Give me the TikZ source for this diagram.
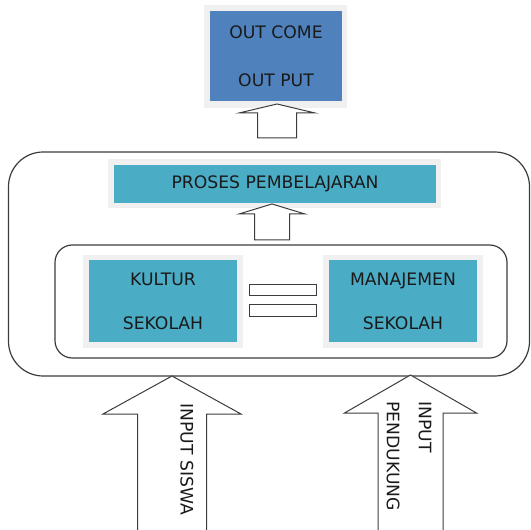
\documentclass[tikz,border=0pt]{standalone}
\usepackage{fontspec}
\setmainfont{DejaVu Sans}
\usetikzlibrary{calc}
\definecolor{blueA}{HTML}{4F81BD}
\definecolor{tealA}{HTML}{4BACC6}
\definecolor{glow}{HTML}{F0F0F0}
\definecolor{txt}{HTML}{1A1A1A}
\definecolor{edge}{HTML}{3C3C3C}
\newcommand\blkarrow[6]{%
  \draw[blockarrow] ($(#1 |- #2)+(-#3,0)$) -- ($(#1)+(-#3,#5)$) -- ($(#1)+(-#4,#5)$) -- (#1)
    -- ($(#1)+(#4,#5)$) -- ($(#1)+(#3,#5)$) -- ($(#1 |- #2)+(#3,0)$) #6;}
\begin{document}
\begin{tikzpicture}[x=0.75pt,y=-0.75pt,
  lbl/.style={font=\fontsize{12.9}{15}\selectfont, text=txt, inner sep=0pt},
  glowbox/.style={fill=glow, draw=none},
  colbox/.style={draw=none, inner sep=0pt, text=txt, align=center},
  roundframe/.style={draw=edge, line width=0.9pt, fill=white},
  blockarrow/.style={draw=edge, line width=0.75pt, fill=white, line join=miter},
  eqbar/.style={draw=edge, line width=0.75pt, fill=white}]
\useasboundingbox (0,0) rectangle (531,530);

% outer and inner frames
\draw[roundframe, rounded corners=26pt] (8.5,152) rectangle (529.5,376);
\draw[roundframe, rounded corners=13pt] (55,245) rectangle (507,358);

% top box
\fill[glowbox] (204,5) rectangle (347,108);
\node[colbox, fill=blueA, minimum width=132*0.75pt, minimum height=90*0.75pt,
  font=\fontsize{12.9}{36}\selectfont] (outbox) at (276,56) {OUT COME\\OUT PUT};

% proses
\fill[glowbox] (108,159) rectangle (441,208);
\node[colbox, fill=tealA, minimum width=322*0.75pt, minimum height=38*0.75pt,
  font=\fontsize{12.9}{15}\selectfont] (proses) at (275,184) {PROSES PEMBELAJARAN};

% kultur & manajemen
\fill[glowbox] (83,255) rectangle (243,348);
\node[colbox, fill=tealA, minimum width=148*0.75pt, minimum height=82*0.75pt,
  font=\fontsize{12.9}{33}\selectfont] (kultur) at (163,301) {KULTUR\\SEKOLAH};
\fill[glowbox] (323,255) rectangle (483,348);
\node[colbox, fill=tealA, minimum width=148.5*0.75pt, minimum height=82*0.75pt,
  font=\fontsize{12.9}{33}\selectfont] (manaj) at (403,301) {MANAJEMEN\\SEKOLAH};

% equal sign
\node[eqbar, minimum width=67*0.75pt, minimum height=11*0.75pt, inner sep=0pt] (eqa) at (282.5,290.5) {};
\node[eqbar, minimum width=67*0.75pt, minimum height=12*0.75pt, inner sep=0pt] (eqb) at (282.5,311) {};

% block arrows
\coordinate (t1) at (277,104); \coordinate (b1) at (277,138);
\coordinate (t2) at (272,204); \coordinate (b2) at (272,240);
\coordinate (t3) at (172,376); \coordinate (b3) at (172,533);
\coordinate (t4) at (410.5,375); \coordinate (b4) at (410.5,533);
\blkarrow{t1}{b1}{19.5}{38}{9}{-- cycle}
\blkarrow{t2}{b2}{17.5}{33}{10}{-- cycle}
\blkarrow{t3}{b3}{34.5}{69}{38}{}
\blkarrow{t4}{b4}{32.5}{66}{38}{}

% rotated labels
\node[lbl, rotate=-90, anchor=west] (insiswa) at (187,403) {INPUT SISWA};
\node[lbl, rotate=-90, anchor=west, align=left, font=\fontsize{12.9}{24}\selectfont] (inpend) at (409,401) {INPUT\\PENDUKUNG};
\end{tikzpicture}
\end{document}
